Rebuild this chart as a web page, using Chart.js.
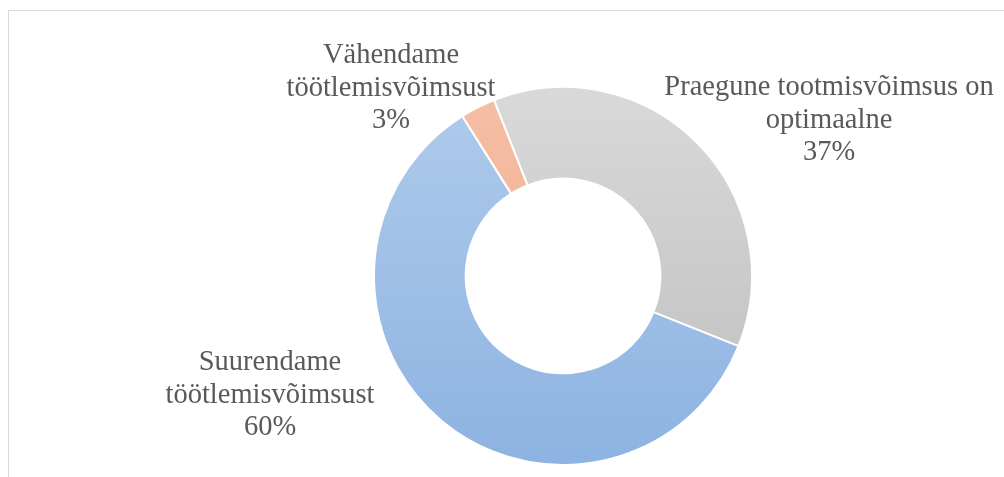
<!DOCTYPE html>
<html>
<head>
<meta charset="utf-8">
<script src="https://cdn.jsdelivr.net/npm/chart.js@4"></script>
<style>
  html, body { margin: 0; padding: 0; background: #fff; }
  #wrap { position: relative; width: 1004px; height: 477px; overflow: hidden; }
  #frame { position: absolute; left: 8px; top: 10px; width: 1100px; height: 600px;
           border-top: 1px solid #d9d9d9; border-left: 1px solid #d9d9d9; }
  canvas { position: absolute; left: 0; top: 0; }
</style>
</head>
<body>
<div id="wrap">
  <div id="frame"></div>
  <canvas id="chart" width="1004" height="477"></canvas>
</div>
<script>
// --- data ---
const categories = [
  ["Praegune tootmisvõimsus on", "optimaalne"],
  ["Suurendame", "töötlemisvõimsust"],
  ["Vähendame", "töötlemisvõimsust"],
];
const shares = [37, 60, 3];
const pctLabels = ["37%", "60%", "3%"];

// --- look ---
const gradStops = [
  ["#d9d9d9", "#bdbdbd"],
  ["#b0cbeb", "#8db3e2"],
  ["#f5bfa6", "#f4a582"],
];
// label anchor (centre x, first line y) for each slice
const labelPos = [
  [829, 88],
  [270, 363],
  [391, 56],
];
const lineH = 32.5;

function sliceFill(ctx) {
  const chart = ctx.chart;
  const area = chart.chartArea;
  if (!area) return gradStops[ctx.dataIndex][0];
  const g = chart.ctx.createLinearGradient(0, area.top, 0, area.bottom);
  g.addColorStop(0, gradStops[ctx.dataIndex][0]);
  g.addColorStop(1, gradStops[ctx.dataIndex][1]);
  return g;
}

const outsideLabels = {
  id: "outsideLabels",
  afterDraw(chart) {
    const c = chart.ctx;
    c.save();
    c.font = '28.5px "Liberation Serif", serif';
    c.fillStyle = "#595959";
    c.textAlign = "center";
    c.textBaseline = "middle";
    chart.data.labels.forEach((lab, i) => {
      const lines = lab.concat([pctLabels[i]]);
      lines.forEach((ln, k) => {
        c.fillText(ln, labelPos[i][0], labelPos[i][1] + k * lineH);
      });
    });
    c.restore();
  },
};

new Chart(document.getElementById("chart"), {
  type: "doughnut",
  data: {
    labels: categories,
    datasets: [{
      data: shares,
      backgroundColor: sliceFill,
      borderColor: "#ffffff",
      borderWidth: 2,
    }],
  },
  options: {
    responsive: false,
    animation: false,
    rotation: -21.4,
    cutout: "51.5%",
    layout: { padding: { left: 373, right: 251, top: 86, bottom: 11 } },
    plugins: { legend: { display: false }, tooltip: { enabled: false } },
  },
  plugins: [outsideLabels],
});
</script>
</body>
</html>
